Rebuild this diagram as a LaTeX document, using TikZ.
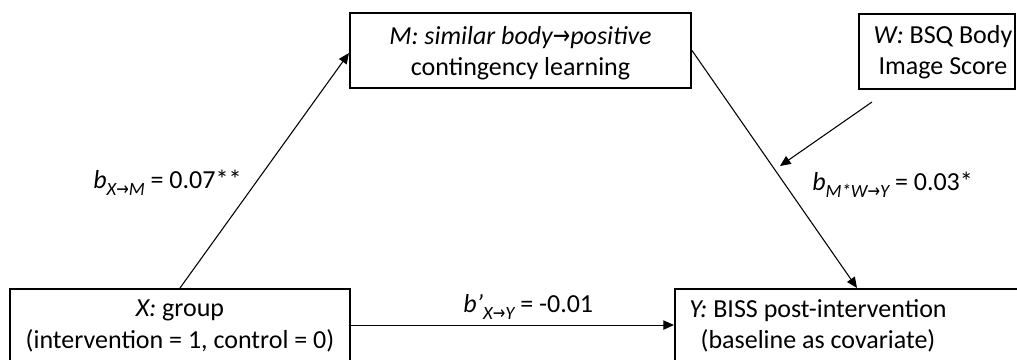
\documentclass[tikz,border=0pt]{standalone}
\usepackage{fontspec}
\usepackage{graphicx}
\setmainfont{Carlito}
\newfontfamily\arrfont{DejaVu Sans}
\usetikzlibrary{arrows.meta}
\newcommand{\rar}{\scalebox{0.8}[1]{\arrfont\upshape →}}
\newcommand{\sbs}[1]{\raisebox{-0.3em}{\fontsize{14}{14}\selectfont\itshape #1}}
\tikzset{
  boxnode/.style={draw=black, line width=1.5pt, inner sep=0pt},
  txt/.style={font=\fontsize{19.5}{23.5}\selectfont, align=center, inner sep=0pt},
  lbl/.style={font=\fontsize{19.5}{23.5}\selectfont, inner sep=0pt, anchor=base west},
  arr/.style={line width=0.8pt, -{Triangle[length=8pt,width=7pt]}}
}
\begin{document}
\begin{tikzpicture}[x=0.75pt,y=-0.75pt]
\useasboundingbox (0,0) rectangle (1017,360);
% boxes
\node[boxnode, minimum width=255.75pt, minimum height=56.25pt] (M) at (520.5,50.5) {};
\node[boxnode, minimum width=117pt, minimum height=56.25pt] (W) at (937,51.5) {};
\node[boxnode, minimum width=255pt, minimum height=68.25pt] (X) at (180,334.5) {};
\node[boxnode, minimum width=266.25pt, minimum height=68.25pt] (Y) at (852.5,334.5) {};
% texts
\node[txt] (Mt) at (520.5,53) {\textit{M: similar body\rar positive}\\contingency learning};
\node[txt] (Wt) at (943,52) {\textit{W:} BSQ Body\\Image Score};
\node[txt] (Xt) at (180,326) {\textit{X:} group\\(intervention = 1, control = 0)};
\node[txt] (Yt) at (818,326) {\textit{Y:} BISS post-intervention\\(baseline as covariate)};
% connectors
\draw[arr] ([xshift=128.25pt]X.north west) -- ([yshift=-1.9pt]M.west);
\draw[arr] (M.east) -- ([xshift=137.25pt]Y.north west);
\coordinate (w1) at (872,102);
\coordinate (w2) at (780,166);
\draw[arr] (w1) -- (w2);
\draw[arr] ([yshift=7.1pt]X.east) -- ([yshift=7.1pt]Y.west);
% labels
\node[lbl] (l1) at (93,188) {\textit{b}\sbs{X\rar M} = 0.07**};
\node[lbl] (l2) at (812,190) {\textit{b}\sbs{M*W\rar Y} = 0.03*};
\node[lbl] (l3) at (463,312) {\textit{b’}\sbs{X\rar Y} = -0.01};
\end{tikzpicture}
\end{document}
